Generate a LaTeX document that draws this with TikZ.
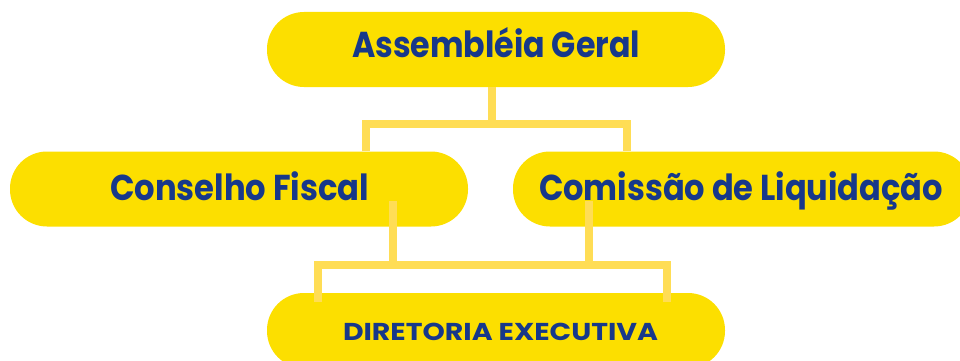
\documentclass[tikz,border=0pt]{standalone}
\usepackage{fontspec}
\setmainfont{Poppins}[BoldFont=* Bold]
\usepackage{graphicx}
\definecolor{boxy}{HTML}{FCDF00}
\definecolor{linky}{HTML}{FFDD55}
\definecolor{navy}{HTML}{17388A}
\newcommand\fitw[2]{\setbox0=\hbox{#2}\pgfmathsetmacro\myfx{#1/\wd0}\scalebox{\myfx}[1]{\box0}}
\tikzset{
  pill/.style={fill=boxy, rounded corners=37pt, minimum width=458pt, minimum height=75pt, inner sep=0pt},
  lbl/.style={anchor=base, inner sep=0pt, text=navy, font=\bfseries},
  conn/.style={draw=linky, line width=8pt, line join=miter},
}
\begin{document}
\begin{tikzpicture}[x=1pt,y=-1pt]
\useasboundingbox (0,0) rectangle (960,361);
\clip (0,0) rectangle (960,361);
\node[pill] (ag) at (496,49.5) {};
\node[pill] (cf) at (239,189) {};
\node[pill] (cl) at (742,189) {};
\node[pill] (de) at (496,330.5) {};
\node[lbl] (agt) at (496,58) {\fontsize{36}{40}\selectfont\fitw{288pt}{Assembléia Geral}};
\node[lbl] (cft) at (239.5,200) {\fontsize{36}{40}\selectfont\fitw{259pt}{Conselho Fiscal}};
\node[lbl] (clt) at (741,200) {\fontsize{36}{40}\selectfont\fitw{404pt}{Comissão de Liquidação}};
\node[lbl] (det) at (500.5,340) {\fontsize{24.4}{28}\selectfont\fitw{315pt}{DIRETORIA EXECUTIVA}};
% top connectors
\coordinate (j1) at (492,124);
\coordinate (ja) at (366,124);
\coordinate (jb) at (627,124);
\draw[conn] (ag.south -| j1) -- (j1);
\draw[conn] (ja |- cf.north) -- (ja) -- (jb) -- (jb |- cl.north);
% lower connectors
\coordinate (s1) at (393,201);
\coordinate (s2) at (589,201);
\coordinate (ka) at (318,265);
\coordinate (kb) at (667,265);
\coordinate (d1) at (318,302);
\coordinate (d2) at (667,302);
\draw[conn] (s1) -- (s1 |- ka);
\draw[conn] (s2) -- (s2 |- kb);
\draw[conn] (d1) -- (ka) -- (kb) -- (d2);
\end{tikzpicture}
\end{document}
